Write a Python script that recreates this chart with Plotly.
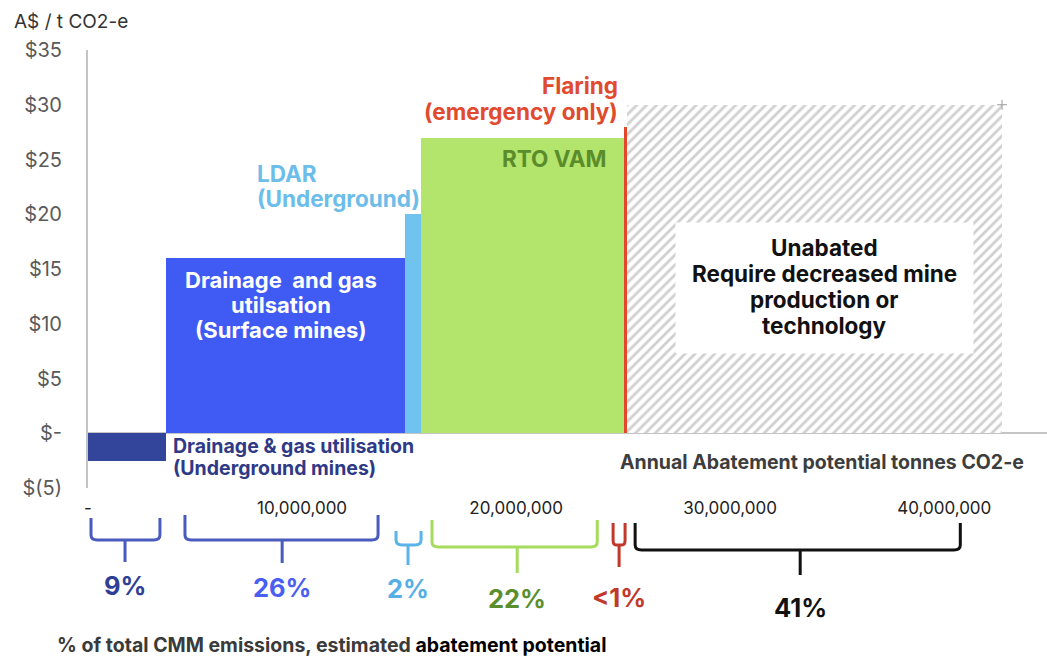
import numpy as np
import plotly.graph_objects as go

# Abatement options, in merit order (widths = annual abatement, t CO2-e)
options = ["Drainage & gas utilisation (Underground mines)",
           "Drainage and gas utilisation (Surface mines)",
           "LDAR (Underground)", "RTO VAM", "Flaring (emergency only)"]
widths_t = [3.65e6, 11.15e6, 0.75e6, 9.5e6, 0.15e6]
cost_aud = [-2.5, 16, 20, 27, 28]
colors = ["#33449b", "#3f5bf3", "#6fc3ee", "#b3e46b", "#e2462b"]

# Residual emissions with no abatement option
unabated_width_t = 17.5e6
unabated_cost = 30

# Share of total CMM emissions per group
shares = ["9%", "26%", "2%", "22%", "<1%", "41%"]
share_colors = ["#2f3f95", "#4a5ef2", "#55afe6", "#5b8f2d", "#c0392b", "#111111"]

y_ticks = [-5, 0, 5, 10, 15, 20, 25, 30, 35]
y_ticktext = ["$(5)", "$-", "$5", "$10", "$15", "$20", "$25", "$30", "$35"]
x_ticks = [0, 10e6, 20e6, 30e6, 40e6]
x_ticktext = ["-", "10,000,000", "20,000,000", "30,000,000", "40,000,000"]

FONT = "Inter"
BOLD = 700

starts = np.concatenate([[0], np.cumsum(widths_t)[:-1]])
centers = starts + np.array(widths_t) / 2
unabated_start = float(np.sum(widths_t))
unabated_end = unabated_start + unabated_width_t

fig = go.Figure()
fig.add_trace(go.Bar(
    x=centers, y=cost_aud, width=widths_t,
    marker=dict(color=colors, line=dict(width=0)),
    hoverinfo="skip", showlegend=False,
))
fig.add_trace(go.Bar(
    x=[unabated_start + unabated_width_t / 2], y=[unabated_cost],
    width=[unabated_width_t],
    marker=dict(color="white", line=dict(width=0),
                pattern=dict(shape="/", fgcolor="#a2a2a2", bgcolor="white",
                             size=7, solidity=0.4)),
    hoverinfo="skip", showlegend=False,
))
fig.add_trace(go.Scatter(
    x=[unabated_end], y=[unabated_cost], mode="markers",
    marker=dict(symbol="cross-thin", size=7, line=dict(color="#999999", width=1)),
    hoverinfo="skip", showlegend=False,
))

ann = []

def label(x, y, lines, color, size, spacing, xanchor="center"):
    """One annotation per text line so the line spacing can be set in px."""
    n = len(lines)
    for i, line in enumerate(lines):
        ann.append(dict(x=x, y=y, xref="x", yref="y", text=line,
                        showarrow=False, xanchor=xanchor, yanchor="middle",
                        yshift=((n - 1) / 2 - i) * spacing,
                        font=dict(family=FONT, size=size, color=color,
                                  weight=BOLD)))

# White panel behind the unabated note
ann.append(dict(x=unabated_start + 9.2e6, y=13.3, xref="x", yref="y", text=" ",
                showarrow=False, bgcolor="white", width=297, height=130, borderpad=0))

# Bar labels
label(starts[1] + widths_t[1] / 2 - 0.2e6, 11.7,
      ["Drainage  and gas", "utilsation", "(Surface mines)"], "white", 22, 25)
label(starts[0] + widths_t[0] + 0.25e6, -2.2,
      ["Drainage & gas utilisation", "(Underground mines)"], "#2e3a86", 19.5, 22,
      xanchor="left")
label(7.8e6, 22.6, ["LDAR", "(Underground)"], "#6cbdea", 22.5, 25.5, xanchor="left")
label(24.35e6, 25.1, ["RTO VAM"], "#5a8c2c", 22.5, 0, xanchor="right")
label(24.85e6, 30.6, ["Flaring", "(emergency only)"], "#e24a2e", 22.5, 26,
      xanchor="right")
label(34.3e6, -2.6, ["Annual Abatement potential tonnes CO2-e"], "#3d3d3d", 19.5, 0)
label(unabated_start + 9.2e6, 13.4,
      ["Unabated", "Require decreased mine", "production or", "technology"],
      "#111111", 22.5, 26.3)

# Braces under the x axis: (x0, x1, stem x) in t CO2-e, (top, bar, bottom) in px
PX = 438.0
def py(p):
    return (488 - p) / PX

braces = [
    (0.14e6, 3.36e6, 1.73e6, 518, 540, 562, "#4a5bbf"),
    (4.53e6, 13.55e6, 9.07e6, 515, 540, 563, "#4a5bbf"),
    (14.39e6, 15.56e6, 14.95e6, 531, 545, 565, "#5ab4e8"),
    (16.07e6, 23.79e6, 20.05e6, 520, 547, 573, "#a6dc5c"),
    (24.53e6, 25.09e6, 24.81e6, 523, 545, 567, "#c0392b"),
    (25.56e6, 40.75e6, 33.27e6, 523, 550, 575, "#111111"),
]
share_y = [585, 587, 588, 598, 597, 607]

shapes = []
for (x0, x1, xm, yt, yh, yb, c), s, sc, sy in zip(braces, shares, share_colors, share_y):
    rx = min(0.3e6, (x1 - x0) / 4)
    r = 5 / PX
    path = (f"M {x0},{py(yt)} L {x0},{py(yh) + r} Q {x0},{py(yh)} {x0 + rx},{py(yh)} "
            f"L {x1 - rx},{py(yh)} Q {x1},{py(yh)} {x1},{py(yh) + r} L {x1},{py(yt)} "
            f"M {xm},{py(yh)} L {xm},{py(yb)}")
    shapes.append(dict(type="path", path=path, xref="x", yref="paper",
                       line=dict(color=c, width=3)))
    ann.append(dict(x=xm, y=py(sy), xref="x", yref="paper", text=s,
                    showarrow=False, xanchor="center", yanchor="middle",
                    font=dict(family=FONT, size=25.5, color=sc, weight=BOLD)))

# Axis title and footnote
ann.append(dict(x=-76 / 959, y=py(22), xref="paper", yref="paper",
                text="A$ / t CO2-e", showarrow=False, xanchor="left", yanchor="middle",
                font=dict(family=FONT, size=19, color="#333333")))
ann.append(dict(x=-33 / 959, y=py(659), xref="paper", yref="paper",
                text="% of total CMM emissions, estimated "
                     "<span style='color:#000000'>abatement potential</span>",
                showarrow=False, xanchor="left", yanchor="bottom",
                font=dict(family=FONT, size=19.5, color="#3a3a3a", weight=BOLD)))

fig.update_layout(
    width=1047, height=660,
    margin=dict(l=88, r=0, t=50, b=172),
    paper_bgcolor="white", plot_bgcolor="white",
    bargap=0, barmode="overlay",
    annotations=ann, shapes=shapes,
    xaxis=dict(range=[0, 44.8e6], tickvals=x_ticks, ticktext=x_ticktext,
               showgrid=False, zeroline=False, showline=False, ticks="",
               ticklabelstandoff=8,
               tickfont=dict(family=FONT, size=17, color="#222222")),
    yaxis=dict(range=[-5, 35], tickvals=y_ticks, ticktext=y_ticktext,
               showgrid=False, zeroline=True, zerolinecolor="#c4c4c4",
               zerolinewidth=2, showline=True, linecolor="#c4c4c4", linewidth=2,
               ticks="", ticklabelstandoff=20,
               tickfont=dict(family=FONT, size=20, color="#5a5a5a")),
)

fig.write_html("out.html")
